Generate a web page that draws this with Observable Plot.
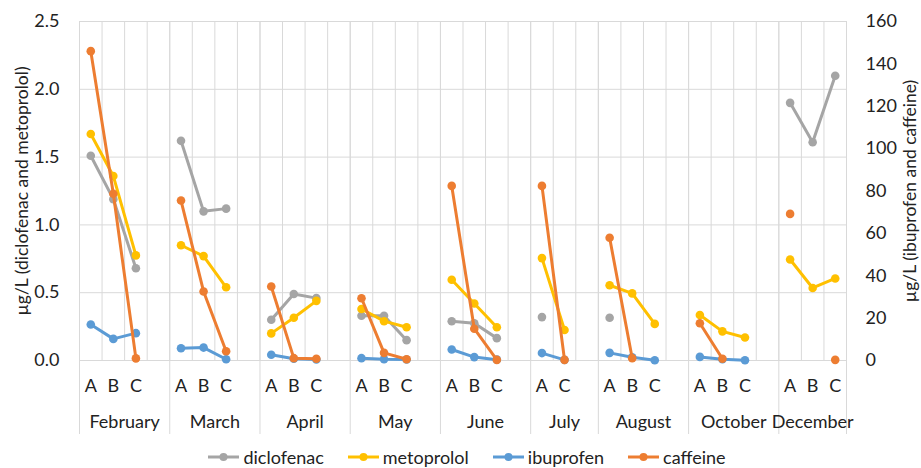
<!DOCTYPE html>
<html>
<head>
<meta charset="utf-8">
<script src="https://cdn.jsdelivr.net/npm/d3@7"></script>
<script src="https://cdn.jsdelivr.net/npm/@observablehq/plot@0.6"></script>
<style>
  html, body { margin: 0; padding: 0; background: #fff; }
  body { width: 921px; height: 468px; overflow: hidden; font-family: Lato, "Liberation Sans", sans-serif; color: #222; }
  #chart svg { display: block; }
  #legend { display: flex; justify-content: center; align-items: center; height: 22px; padding-left: 12px; font-size: 18px; line-height: 22px; }
  #legend .item { display: flex; align-items: center; margin-right: 23px; }
  #legend .item:last-child { margin-right: 0; }
  #legend svg { margin-right: 3px; }
</style>
</head>
<body>
<div id="chart"></div>
<div id="legend"></div>
<script>
// ---- data ----
const months = ["February", "March", "April", "May", "June", "July", "August", "October", "December"];
const sampleLabels = [
  ["A", "B", "C"], ["A", "B", "C"], ["A", "B", "C"], ["A", "B", "C"], ["A", "B", "C"],
  ["A", "C"], ["A", "B", "C"], ["A", "B", "C"], ["A", "B", "C"]
];
// left axis (µg/L)
const diclofenac = [
  [1.51, 1.19, 0.68], [1.62, 1.10, 1.12], [0.30, 0.49, 0.46], [0.33, 0.33, 0.15], [0.29, 0.275, 0.165],
  [0.32, null], [0.315, null, null], [null, null, null], [1.90, 1.61, 2.10]
];
const metoprolol = [
  [1.67, 1.36, 0.775], [0.85, 0.77, 0.54], [0.20, 0.315, 0.44], [0.38, 0.29, 0.245], [0.595, 0.42, 0.245],
  [0.755, 0.225], [0.555, 0.495, 0.27], [0.335, 0.215, 0.17], [0.745, 0.535, 0.605]
];
// right axis (µg/L)
const ibuprofen = [
  [17, 10.2, 12.9], [5.8, 6.1, 0.6], [2.7, 0.8, 0.5], [1.1, 0.6, 0.5], [5.2, 1.6, 0.4],
  [3.5, 0.3], [3.6, 1.5, 0.1], [1.7, 0.6, 0.1], [null, null, null]
];
const caffeine = [
  [146, 78.7, 1], [75.5, 32.6, 4.4], [34.9, 1.1, 0.8], [29.4, 3.6, 0.6], [82.4, 15, 0.3],
  [82.4, 0.3], [57.9, 1.1, null], [17.6, 0.8, null], [69.2, null, 0.3]
];
const leftTicks = [0, 0.5, 1.0, 1.5, 2.0, 2.5];
const rightTicks = [0, 20, 40, 60, 80, 100, 120, 140, 160];
const leftTitle = "µg/L (diclofenac and metoprolol)";
const rightTitle = "µg/L (ibuprofen and caffeine)";

const series = [
  { name: "diclofenac", values: diclofenac, axis: "left", color: "#a5a5a5" },
  { name: "metoprolol", values: metoprolol, axis: "left", color: "#ffc000" },
  { name: "ibuprofen", values: ibuprofen, axis: "right", color: "#5b9bd5" },
  { name: "caffeine", values: caffeine, axis: "right", color: "#ed7d31" }
];

// ---- layout of category slots (each month followed by an empty slot, except the last) ----
const ratio = rightTicks[rightTicks.length - 1] / leftTicks[leftTicks.length - 1];
const monthStart = [];
let pos = 0;
months.forEach((m, i) => {
  monthStart.push(pos);
  pos += sampleLabels[i].length + (i < months.length - 1 ? 1 : 0);
});
const nSlots = pos;
const monthEnd = months.map((m, i) => i < months.length - 1 ? monthStart[i + 1] : nSlots);

const slotLabels = [];
months.forEach((m, i) => sampleLabels[i].forEach((l, j) => slotLabels.push({ x: monthStart[i] + j + 0.5, label: l })));
const monthLabels = months.map((m, i) => ({ x: (monthStart[i] + monthEnd[i]) / 2, month: m }));
const monthBoundaries = [0, ...monthEnd];
const allBoundaries = d3.range(0, nSlots + 1);

const rows = [];
series.forEach(s => {
  months.forEach((m, i) => {
    sampleLabels[i].forEach((l, j) => {
      const v = s.values[i][j];
      rows.push({
        series: s.name, month: m, x: monthStart[i] + j + 0.5,
        y: v == null ? NaN : (s.axis === "right" ? v / ratio : v), color: s.color
      });
    });
  });
});

const seriesMarks = series.flatMap(s => {
  const data = rows.filter(r => r.series === s.name);
  return [
    Plot.line(data, { x: "x", y: "y", z: "month", stroke: s.color, strokeWidth: 3, strokeLinejoin: "round", strokeLinecap: "round" }),
    Plot.dot(data.filter(d => !isNaN(d.y)), { x: "x", y: "y", r: 4.3, fill: s.color, stroke: "none" })
  ];
});

const ink = "#222";
const chart = Plot.plot({
  width: 921,
  height: 446,
  marginLeft: 79,
  marginRight: 75,
  marginTop: 21,
  marginBottom: 86,
  x: { domain: [0, nSlots], axis: null },
  y: { domain: [leftTicks[0], leftTicks[leftTicks.length - 1]], axis: null },
  style: { fontFamily: "Lato, 'Liberation Sans', sans-serif", fontSize: "18px", color: ink, background: "#fff", overflow: "visible" },
  marks: [
    Plot.ruleX(allBoundaries, { x: d => d, stroke: "#d9d9d9", strokeWidth: 1 }),
    Plot.ruleX(monthBoundaries, { x: d => d, stroke: "#d9d9d9", strokeWidth: 1, insetBottom: -74 }),
    Plot.ruleY(leftTicks, { y: d => d, stroke: "#d9d9d9", strokeWidth: 1 }),
    Plot.axisY(leftTicks, { anchor: "left", tickSize: 0, tickPadding: 20, tickFormat: d3.format(".1f"), label: null, fontSize: 18, fill: ink }),
    Plot.axisY(rightTicks.map(t => t / ratio), { anchor: "right", tickSize: 0, tickPadding: 19, tickFormat: d => Math.round(d * ratio), label: null, fontSize: 18, fill: ink }),
    Plot.text([leftTitle], { frameAnchor: "left", textAnchor: "middle", lineAnchor: "middle", rotate: -90, dx: -57, fontSize: 17.5, fill: ink }),
    Plot.text([rightTitle], { frameAnchor: "right", textAnchor: "middle", lineAnchor: "middle", rotate: -90, dx: 64, fontSize: 17.5, fill: ink }),
    Plot.text(slotLabels, { x: "x", y: () => 0, text: "label", dy: 26, fontSize: 18, fill: ink }),
    Plot.text(monthLabels, { x: "x", y: () => 0, text: "month", dy: 62, fontSize: 18, fill: ink }),
    ...seriesMarks
  ]
});
document.getElementById("chart").appendChild(chart);

// ---- legend ----
const legend = d3.select("#legend");
series.forEach(s => {
  const item = legend.append("div").attr("class", "item");
  const sw = item.append("svg").attr("width", 33).attr("height", 12);
  sw.append("line").attr("x1", 1).attr("x2", 32).attr("y1", 6).attr("y2", 6)
    .attr("stroke", s.color).attr("stroke-width", 3);
  sw.append("circle").attr("cx", 16.5).attr("cy", 6).attr("r", 4).attr("fill", s.color);
  item.append("span").text(s.name);
});
</script>
</body>
</html>
